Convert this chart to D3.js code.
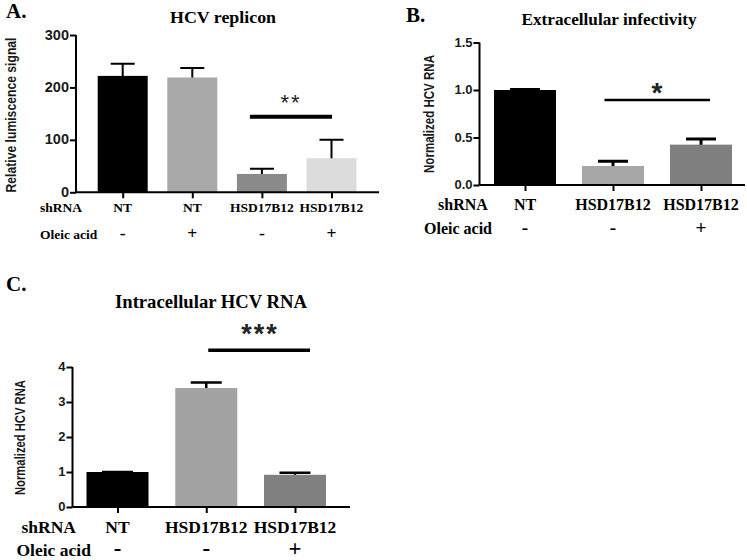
<!DOCTYPE html>
<html><head><meta charset="utf-8">
<script src="https://cdn.jsdelivr.net/npm/d3@7"></script>
<style>body{margin:0;background:#fff} svg{display:block}</style>
</head><body>
<svg id="c" width="747" height="560"></svg>
<script>
// ---------- DATA ----------
// Panel A: HCV replicon
const aShRNA = ["NT", "NT", "HSD17B12", "HSD17B12"];
const aOleic = ["-", "+", "-", "+"];
const aValues = [222, 219, 35, 65];
const aErrors = [23, 18, 10, 35];
const aTicks = [0, 100, 200, 300];
// Panel B: Extracellular infectivity
const bShRNA = ["NT", "HSD17B12", "HSD17B12"];
const bOleic = ["-", "-", "+"];
const bValues = [1.0, 0.20, 0.425];
const bErrors = [0.004, 0.05, 0.06];
const bTicks = [0, 0.5, 1.0, 1.5];
// Panel C: Intracellular HCV RNA
const cShRNA = ["NT", "HSD17B12", "HSD17B12"];
const cOleic = ["-", "-", "+"];
const cValues = [1.0, 3.40, 0.92];
const cErrors = [0.0, 0.16, 0.06];
const cTicks = [0, 1, 2, 3, 4];

const SERIF = "Liberation Serif, Times New Roman, serif";
const SANS = "Liberation Sans, Arial, sans-serif";
const NARROW = "Liberation Sans Narrow, Liberation Sans, Arial, sans-serif";

const svg = d3.select("#c");

function panel(o) {
  const g = svg.append("g");
  const x = d3.scalePoint().domain(d3.range(o.values.length)).range(o.xr);
  const y = d3.scaleLinear().domain([0, d3.max(o.ticks)]).range(o.yr);

  // bars
  g.selectAll("rect.bar").data(o.values).join("rect")
    .attr("class", "bar")
    .attr("x", (d, i) => x(i) - o.bw / 2)
    .attr("width", o.bw)
    .attr("y", d => y(d))
    .attr("height", d => y(0) - y(d))
    .attr("fill", (d, i) => o.colors[i]);

  // error bars (upper only)
  g.selectAll("path.err").data(o.values).join("path")
    .attr("class", "err")
    .attr("d", (d, i) => {
      const top = y(d + o.errors[i]);
      return `M${x(i)},${y(d)}V${top}M${x(i) - o.cap / 2},${top}H${x(i) + o.cap / 2}`;
    })
    .attr("stroke", "#000").attr("stroke-width", o.ew).attr("fill", "none");

  // y axis
  const yg = g.append("g").attr("transform", `translate(${o.ax},0)`)
    .call(d3.axisLeft(y).tickValues(o.ticks).tickFormat(o.fmt).tickSize(6).tickSizeOuter(0));
  yg.select(".domain").attr("stroke-width", 2).attr("d", `M0,${y(0)}V${y(d3.max(o.ticks))}`);
  yg.selectAll(".tick line").attr("stroke-width", 2);
  yg.selectAll(".tick text")
    .style("font-family", SANS).style("font-weight", "bold")
    .style("font-size", o.tfs + "px").attr("fill", "#1a1a1a").attr("x", -7).attr("dy", "0.28em");

  // x axis
  const xg = g.append("g").attr("transform", `translate(0,${y(0)})`)
    .call(d3.axisBottom(x).tickSize(6).tickSizeOuter(0).tickFormat(""));
  xg.select(".domain").attr("d", `M${o.ax},0H${o.axEnd}`).attr("stroke-width", 2);
  xg.selectAll(".tick line").attr("stroke-width", 2);

  // y label
  g.append("text")
    .attr("transform", `translate(${o.ylx},${o.yly}) rotate(-90)`)
    .attr("text-anchor", "middle")
    .style("font-family", NARROW).style("font-weight", "bold")
    .style("font-size", o.yfs + "px")
    .attr("textLength", o.ylen).attr("lengthAdjust", "spacingAndGlyphs")
    .attr("fill", "#1a1a1a")
    .text(o.ylabel);

  // title
  g.append("text")
    .attr("x", o.tx).attr("y", o.ty).attr("text-anchor", "middle")
    .style("font-family", SERIF).style("font-weight", "bold").style("font-size", o.titfs + "px")
    .attr("textLength", o.tlen).attr("lengthAdjust", "spacingAndGlyphs")
    .text(o.title);

  // panel letter
  g.append("text")
    .attr("x", o.lx).attr("y", o.ly)
    .style("font-family", SERIF).style("font-weight", "bold").style("font-size", "21px")
    .text(o.letter);

  // row labels
  const rows = [
    { name: "shRNA", vals: o.shRNA, y: o.r1y, x: o.r1x },
    { name: "Oleic acid", vals: o.oleic, y: o.r2y, x: o.r2x }
  ];
  rows.forEach(r => {
    g.append("text").attr("x", r.x).attr("y", r.y)
      .style("font-family", SERIF).style("font-weight", "bold").style("font-size", o.rfs + "px")
      .text(r.name);
    g.selectAll(null).data(r.vals).join("text")
      .attr("x", (d, i) => x(i)).attr("y", r.y)
      .attr("text-anchor", "middle")
      .style("font-family", SERIF).style("font-weight", "bold")
      .style("font-size", d => ((d === "+" || d === "-") ? o.rfs * o.signScale : o.rfs) + "px")
      .text(d => d);
  });

  // significance line
  g.append("line")
    .attr("x1", x(o.sig[0]) + o.sigOff[0]).attr("x2", x(o.sig[1]) + o.sigOff[1])
    .attr("y1", o.sigY).attr("y2", o.sigY)
    .attr("stroke", "#000").attr("stroke-width", o.sigW);
  g.append("text")
    .attr("x", o.starX).attr("y", o.starY).attr("text-anchor", "middle")
    .style("font-family", SANS).style("font-weight", o.starWeight)
    .style("font-size", o.starFs + "px").style("letter-spacing", o.starLs + "px")
    .attr("fill", "#222")
    .text(o.stars);
}

panel({
  values: aValues, errors: aErrors, ticks: aTicks, shRNA: aShRNA, oleic: aOleic,
  colors: ["#000000", "#a9a9a9", "#8a8a8a", "#dcdcdc"],
  fmt: d3.format("d"),
  xr: [122.7, 331.5], yr: [192.3, 35], bw: 50, cap: 24, ew: 2,
  ax: 76, axEnd: 379, tfs: 14.5,
  ylabel: "Relative lumiscence signal", ylx: 16, yly: 115, yfs: 15, ylen: 155,
  title: "HCV replicon", tx: 223, ty: 22.5, titfs: 17.5, tlen: 106,
  letter: "A.", lx: 6, ly: 17.5,
  r1y: 211.5, r1x: 40, r2y: 239, r2x: 40, rfs: 13.5, signScale: 1.3,
  sig: [2, 3], sigOff: [-12, 0.5], sigY: 116.7, sigW: 4,
  stars: "**", starX: 291, starY: 110, starFs: 22, starWeight: "normal", starLs: 2
});

panel({
  values: bValues, errors: bErrors, ticks: bTicks, shRNA: bShRNA, oleic: bOleic,
  colors: ["#000000", "#a6a6a6", "#7f7f7f"],
  fmt: d3.format(".1f"),
  xr: [525, 701], yr: [185, 42.5], bw: 62, cap: 30, ew: 3,
  ax: 479.5, axEnd: 745, tfs: 13,
  ylabel: "Normalized HCV RNA", ylx: 434, yly: 114, yfs: 14, ylen: 118,
  title: "Extracellular infectivity", tx: 609, ty: 25, titfs: 17, tlen: 175,
  letter: "B.", lx: 406, ly: 21.5,
  r1y: 210, r1x: 438, r2y: 233.5, r2x: 424, rfs: 16, signScale: 1.2,
  sig: [1, 2], sigOff: [-8.5, 9], sigY: 100, sigW: 2.5,
  stars: "*", starX: 657, starY: 102, starFs: 28, starWeight: "bold", starLs: 0
});

panel({
  values: cValues, errors: cErrors, ticks: cTicks, shRNA: cShRNA, oleic: cOleic,
  colors: ["#000000", "#a3a3a3", "#808080"],
  fmt: d3.format("d"),
  xr: [117.5, 295], yr: [507, 367], bw: 62, cap: 31, ew: 2.5,
  ax: 72.5, axEnd: 350, tfs: 13,
  ylabel: "Normalized HCV RNA", ylx: 25, yly: 437.5, yfs: 14, ylen: 115,
  title: "Intracellular HCV RNA", tx: 211, ty: 308, titfs: 18, tlen: 192,
  letter: "C.", lx: 6, ly: 291,
  r1y: 533, r1x: 21.5, r2y: 556, r2x: 16.5, rfs: 17.5, signScale: 1.3,
  sig: [1, 2], sigOff: [2, 15], sigY: 350.3, sigW: 3.5,
  stars: "***", starX: 260, starY: 343, starFs: 27, starWeight: "bold", starLs: 2
});
</script>
</body></html>
